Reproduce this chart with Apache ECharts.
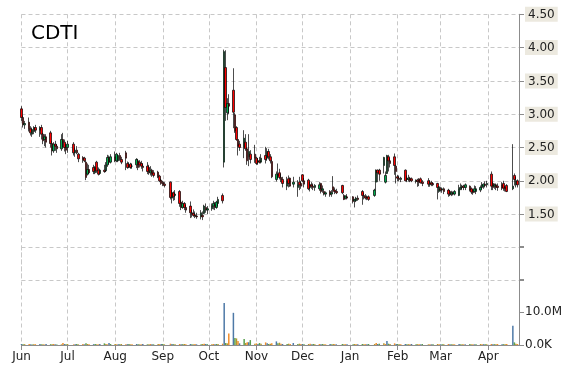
<!DOCTYPE html>
<html><head><meta charset="utf-8">
<script src="https://cdn.jsdelivr.net/npm/echarts@6/dist/echarts.min.js"></script>
<style>html,body{margin:0;padding:0;background:#fff}#c{width:570px;height:370px}</style>
</head><body><div id="c"></div>
<script>
const symbol = 'CDTI';
const firstDay = '2016-06-01';
const lastTradingDay = '2017-04-20';
const axisEndDay = '2017-04-21';
const holidays = ['2016-07-04','2016-09-05','2016-11-24','2016-12-26','2017-01-02','2017-01-16','2017-02-20','2017-04-14'];
const monthNames = ['Jan','Feb','Mar','Apr','May','Jun','Jul','Aug','Sep','Oct','Nov','Dec'];

// one value per trading day, month by month (Jun 2016 ... Apr 2017)
const opens = [
3.08,2.95,2.84,2.88,2.78,2.70,2.74,2.80,2.76,2.80,2.70,2.62,2.66,2.72,2.56,2.45,2.55,2.52,2.48,2.62,2.58,2.50,
2.50,2.55,2.42,2.46,2.40,2.35,2.34,2.28,2.10,2.17,2.20,2.12,2.28,2.16,2.11,2.16,2.15,2.24,2.35,2.28,
2.36,2.30,2.30,2.38,2.32,2.42,2.26,2.24,2.25,2.22,2.24,2.30,2.28,2.26,2.22,2.22,2.20,2.12,2.16,2.12,2.13,2.07,2.01,
1.98,1.95,1.98,1.74,1.82,1.78,1.84,1.68,1.60,1.66,1.60,1.62,1.52,1.51,1.49,1.47,1.46,1.48,1.51,1.60,1.56,
1.58,1.62,1.64,1.60,1.66,1.78,2.28,3.70,3.02,3.16,3.36,2.99,2.80,2.62,2.55,2.50,2.58,2.48,2.36,2.40,2.40,
2.34,2.28,2.30,2.28,2.38,2.34,2.44,2.36,2.29,2.02,2.10,2.12,2.05,2.02,1.92,2.03,2.04,1.95,1.90,1.98,1.96,
2.09,2.00,2.01,1.90,1.94,1.92,1.90,1.88,1.96,1.86,1.84,1.80,1.84,1.80,1.91,1.86,1.84,1.93,1.78,1.74,1.76,
1.76,1.70,1.70,1.74,1.84,1.78,1.76,1.74,1.76,1.78,1.98,2.16,2.16,2.23,1.98,2.11,2.36,2.30,2.36,2.22,
2.06,2.04,2.02,2.16,2.04,2.02,2.04,2.03,1.99,2.01,2.02,2.03,1.98,2.00,1.94,1.97,1.96,1.96,1.84,
1.88,1.86,1.88,1.86,1.84,1.80,1.82,1.80,1.78,1.88,1.90,1.92,1.90,1.92,1.88,1.86,1.84,1.84,1.86,1.90,1.92,1.95,1.94,
2.10,1.96,1.92,1.94,1.92,1.94,1.96,1.90,1.93,1.88,2.08,1.94,2.00
];
const highs = [
3.12,2.98,2.90,2.95,2.82,2.80,2.82,2.84,2.82,2.84,2.72,2.70,2.70,2.75,2.60,2.58,2.60,2.55,2.70,2.72,2.62,2.56,
2.60,2.58,2.50,2.52,2.42,2.37,2.36,2.30,2.26,2.24,2.24,2.22,2.30,2.20,2.18,2.24,2.28,2.39,2.38,2.40,
2.44,2.42,2.39,2.42,2.36,2.45,2.29,2.28,2.27,2.26,2.34,2.33,2.31,2.30,2.26,2.28,2.24,2.22,2.18,2.16,2.15,2.09,2.03,
2.00,1.98,1.99,1.86,1.84,1.86,1.86,1.71,1.70,1.68,1.64,1.69,1.56,1.57,1.54,1.52,1.56,1.54,1.64,1.66,1.62,
1.66,1.70,1.68,1.70,1.76,1.81,3.97,3.96,3.24,3.30,3.69,3.02,2.82,2.62,2.60,2.76,2.70,2.50,2.70,2.46,2.54,
2.36,2.34,2.36,2.40,2.51,2.49,2.48,2.40,2.31,2.14,2.26,2.18,2.10,2.06,2.06,2.08,2.05,2.06,2.01,2.06,2.00,
2.10,2.04,2.03,1.98,1.98,1.96,1.95,1.98,1.97,1.93,1.86,1.84,1.86,1.86,2.07,1.90,1.88,1.94,1.80,1.78,1.80,
1.77,1.73,1.76,1.78,1.86,1.82,1.80,1.78,1.78,1.88,2.17,2.17,2.18,2.36,2.14,2.39,2.39,2.34,2.41,2.24,
2.09,2.08,2.06,2.17,2.08,2.09,2.06,2.05,2.02,2.03,2.04,2.05,2.01,2.04,2.01,2.00,1.98,1.97,1.92,
1.91,1.90,1.90,1.88,1.86,1.85,1.84,1.86,1.94,1.96,1.94,1.94,1.96,1.93,1.90,1.87,1.93,1.92,1.93,1.98,1.96,1.99,2.00,
2.14,1.98,1.96,1.96,1.96,1.98,2.00,1.92,1.95,2.55,2.11,2.06,2.02
];
const lows = [
2.90,2.80,2.78,2.74,2.68,2.66,2.70,2.72,2.66,2.62,2.55,2.52,2.50,2.50,2.38,2.42,2.45,2.42,2.45,2.50,2.44,2.40,
2.42,2.38,2.36,2.40,2.28,2.27,2.28,2.01,2.08,2.10,2.10,2.10,2.12,2.08,2.09,2.12,2.13,2.21,2.25,2.26,
2.28,2.28,2.28,2.30,2.25,2.16,2.18,2.19,2.18,2.18,2.19,2.16,2.20,2.18,2.14,2.10,2.09,2.08,2.06,2.05,2.04,1.98,1.94,
1.92,1.90,1.72,1.66,1.70,1.71,1.61,1.56,1.58,1.56,1.52,1.44,1.45,1.46,1.44,1.43,1.42,1.41,1.50,1.52,1.50,
1.55,1.57,1.56,1.58,1.62,1.66,2.20,2.90,2.91,3.00,2.79,2.72,2.60,2.38,2.45,2.34,2.45,2.24,2.22,2.26,2.27,
2.24,2.24,2.26,2.26,2.26,2.30,2.32,2.26,2.04,1.99,2.04,2.02,1.98,1.90,1.86,1.90,1.91,1.90,1.76,1.86,1.88,
1.98,1.90,1.86,1.84,1.88,1.86,1.85,1.85,1.81,1.82,1.78,1.76,1.76,1.76,1.82,1.80,1.80,1.80,1.71,1.72,1.72,
1.66,1.60,1.68,1.70,1.64,1.72,1.72,1.71,1.70,1.76,1.86,1.98,2.00,2.11,1.96,2.10,2.14,2.20,2.09,1.96,
1.99,1.99,1.98,1.99,1.98,1.99,1.98,1.98,1.96,1.91,1.92,1.96,1.92,1.91,1.91,1.92,1.92,1.72,1.82,
1.84,1.82,1.80,1.76,1.77,1.77,1.78,1.78,1.77,1.86,1.86,1.86,1.86,1.84,1.80,1.79,1.82,1.80,1.83,1.88,1.88,1.90,1.90,
1.86,1.86,1.88,1.86,1.85,1.86,1.85,1.84,1.83,1.86,1.93,1.90,1.90
];
const closes = [
2.95,2.84,2.86,2.78,2.72,2.77,2.80,2.76,2.80,2.70,2.60,2.66,2.58,2.56,2.45,2.55,2.52,2.48,2.62,2.58,2.50,2.46,
2.55,2.42,2.46,2.42,2.33,2.32,2.30,2.05,2.17,2.12,2.14,2.20,2.15,2.10,2.16,2.14,2.24,2.35,2.28,2.36,
2.30,2.40,2.38,2.32,2.28,2.34,2.20,2.21,2.20,2.22,2.32,2.20,2.24,2.22,2.20,2.14,2.12,2.15,2.10,2.08,2.06,2.00,1.96,
1.95,1.93,1.75,1.82,1.76,1.80,1.66,1.60,1.66,1.60,1.56,1.52,1.50,1.48,1.47,1.46,1.52,1.46,1.62,1.56,1.58,
1.62,1.66,1.60,1.68,1.72,1.70,3.94,3.10,3.16,3.12,3.03,2.75,2.62,2.52,2.50,2.64,2.48,2.30,2.44,2.32,2.34,
2.26,2.30,2.28,2.34,2.32,2.44,2.36,2.30,2.06,2.10,2.08,2.05,2.02,1.96,2.00,1.96,1.92,1.98,1.94,1.94,1.92,
2.00,1.95,1.88,1.94,1.92,1.90,1.93,1.94,1.84,1.88,1.80,1.82,1.79,1.82,1.86,1.84,1.82,1.82,1.72,1.77,1.74,
1.69,1.72,1.74,1.72,1.78,1.76,1.74,1.76,1.72,1.86,2.16,2.12,2.10,2.35,2.08,2.38,2.30,2.26,2.23,2.14,
2.04,2.02,2.04,2.00,2.02,2.04,2.00,2.00,2.01,1.99,1.98,1.97,1.96,1.95,1.97,1.95,1.94,1.90,1.91,
1.86,1.88,1.84,1.80,1.79,1.82,1.80,1.84,1.88,1.90,1.92,1.90,1.94,1.86,1.83,1.82,1.88,1.88,1.90,1.94,1.95,1.93,1.96,
1.92,1.90,1.94,1.90,1.90,1.89,1.89,1.88,1.84,1.92,2.02,2.00,1.94
];
// volume in millions of shares
const volumesM = [
0.3,0.2,0.25,0.3,0.2,0.15,0.2,0.25,0.3,0.2,0.2,0.15,0.3,0.25,0.2,0.3,0.2,0.15,0.2,0.6,0.3,0.2,
0.3,0.2,0.25,0.3,0.2,0.3,0.2,0.5,0.3,0.2,0.25,0.3,0.2,0.2,0.3,0.5,0.3,0.2,0.6,0.3,
0.3,0.2,0.25,0.2,0.3,0.2,0.25,0.3,0.2,0.2,0.3,0.25,0.2,0.2,0.3,0.2,0.25,0.3,0.2,0.2,0.3,0.25,0.3,
0.3,0.2,0.4,0.3,0.25,0.2,0.3,0.2,0.25,0.3,0.2,0.3,0.25,0.2,0.3,0.2,0.25,0.3,0.4,0.3,0.25,
0.2,0.3,0.25,0.3,0.3,0.4,12.8,0.6,0.5,3.5,9.8,2.1,2.0,1.2,0.5,1.8,0.6,0.8,0.8,1.5,0.4,
0.5,0.3,0.6,0.4,0.8,0.5,0.3,0.4,0.5,1.1,0.5,0.7,0.4,0.3,0.3,0.4,0.3,0.6,0.3,0.4,0.3,
0.3,0.2,0.3,0.4,0.2,0.3,0.2,0.3,0.2,0.3,0.25,0.2,0.3,0.2,0.3,0.25,0.2,0.3,0.2,0.25,0.2,
0.25,0.3,0.2,0.25,0.3,0.2,0.25,0.2,0.3,0.3,0.6,0.3,0.4,0.5,0.3,1.2,0.4,0.3,0.5,0.3,
0.3,0.2,0.25,0.3,0.2,0.25,0.2,0.3,0.2,0.25,0.2,0.2,0.3,0.2,0.25,0.2,0.2,0.3,0.2,
0.2,0.25,0.2,0.3,0.2,0.2,0.25,0.2,0.3,0.2,0.25,0.2,0.2,0.3,0.2,0.25,0.2,0.2,0.3,0.2,0.25,0.2,0.2,
0.3,0.2,0.25,0.2,0.3,0.2,0.25,0.2,0.3,5.9,0.8,0.4,0.3
];
const priceLabelMin = 1.5;
const volumeLabels = {0: '0.0K', 10000000: '10.0M'};

// ---- styling / build ----
const volPalette = ['#4e79a7','#59a14f','#b6992d','#f28e2b'];
function ymd(d){ return d.toISOString().slice(0,10); }
const days = [];
for (let d = new Date(firstDay + 'T00:00:00Z'); ymd(d) <= axisEndDay; d.setUTCDate(d.getUTCDate() + 1)) days.push(ymd(d));
const tradingDays = days.filter(s => {
  const wd = new Date(s + 'T00:00:00Z').getUTCDay();
  return wd > 0 && wd < 6 && !holidays.includes(s) && s <= lastTradingDay;
});
const pos = {};
tradingDays.forEach((s, i) => pos[s] = i);
const candleData = days.map(s => (s in pos) ? [opens[pos[s]], closes[pos[s]], lows[pos[s]], highs[pos[s]]] : '-');
const volData = days.map(s => (s in pos) ? {value: volumesM[pos[s]] * 1e6, itemStyle: {color: volPalette[pos[s] % volPalette.length]}} : '-');
const isMonthStart = (i, v) => v.slice(8) === '01';
const FONT = 'DejaVu Sans';
const gridLine = {show: true, interval: isMonthStart, lineStyle: {color: '#c8c8c8', type: [4, 3], width: 1}};

const chart = echarts.init(document.getElementById('c'), null, {renderer: 'canvas'});
chart.setOption({
  animation: false,
  backgroundColor: '#fff',
  title: {text: symbol, left: 26, top: 19, textStyle: {fontFamily: FONT, fontSize: 20, fontWeight: 'normal', color: '#000'}},
  grid: [
    {left: 21.5, right: 51, top: 14.3, bottom: 89.3},
    {left: 21.5, right: 51, top: 246.5, bottom: 25}
  ],
  xAxis: [
    {type: 'category', gridIndex: 0, data: days, boundaryGap: false,
     axisLine: {show: false}, axisTick: {show: false}, axisLabel: {show: false}, splitLine: gridLine},
    {type: 'category', gridIndex: 1, data: days, boundaryGap: false,
     axisLine: {show: true, lineStyle: {color: '#8c8c8c'}},
     axisTick: {show: true, interval: isMonthStart, length: 5, lineStyle: {color: '#8c8c8c'}},
     axisLabel: {interval: isMonthStart, formatter: v => monthNames[+v.slice(5,7) - 1],
                 fontFamily: FONT, fontSize: 12, color: '#222', margin: 6},
     splitLine: gridLine}
  ],
  yAxis: [
    {type: 'value', gridIndex: 0, position: 'right', min: 0.5, max: 4.5, interval: 0.5,
     axisLine: {show: true, lineStyle: {color: '#8c8c8c'}},
     axisTick: {show: true, inside: false, length: 5, lineStyle: {color: '#8c8c8c'}},
     axisLabel: {margin: 6, formatter: v => v >= priceLabelMin ? '{b|' + v.toFixed(2) + '}' : '',
       rich: {b: {fontFamily: FONT, fontSize: 12, color: '#222', backgroundColor: '#ECE9DF', padding: [2, 3, 1, 3]}}},
     splitLine: {show: true, lineStyle: {color: '#c8c8c8', type: [4, 3], width: 1}}},
    {type: 'value', gridIndex: 1, position: 'right', min: 0, max: 30000000, interval: 10000000,
     axisLine: {show: true, lineStyle: {color: '#8c8c8c'}},
     axisTick: {show: true, length: 5, lineStyle: {color: '#8c8c8c'}},
     axisLabel: {margin: 6, fontFamily: FONT, fontSize: 12, color: '#222', formatter: v => volumeLabels[v] || ''},
     splitLine: {show: false}}
  ],
  series: [
    {type: 'candlestick', xAxisIndex: 0, yAxisIndex: 0, data: candleData, barWidth: 2,
     itemStyle: {color: '#00b050', color0: '#ff0000', borderColor: '#000', borderColor0: '#000', borderWidth: 0.7}},
    {type: 'bar', xAxisIndex: 1, yAxisIndex: 1, data: volData, barWidth: 1.5}
  ]
});
</script></body></html>
